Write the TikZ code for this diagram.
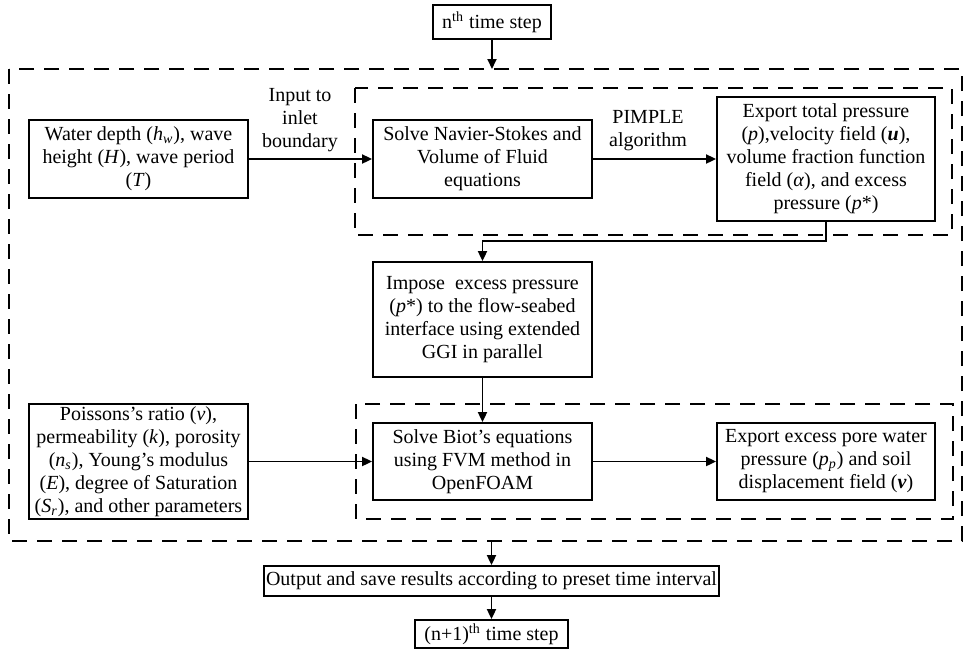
\documentclass[tikz,border=0pt]{standalone}
\usepackage{fontspec}
\setmainfont{Liberation Serif}
\usetikzlibrary{calc, positioning}
\usetikzlibrary{arrows.meta}

\tikzset{
  box/.style={draw, line width=0.9pt, align=center, inner sep=1pt,
    font=\fontsize{10}{11.5}\selectfont},
  lbl/.style={align=center, font=\fontsize{10}{11.5}\selectfont},
  frame/.style={line width=0.9pt, dash pattern=on 7.5pt off 5pt},
  arr/.style={line width=0.9pt, -{Triangle[length=5pt,width=4.5pt]}}
}

\begin{document}
\begin{tikzpicture}[x=0.5pt, y=-0.5pt]
\useasboundingbox (0,0) rectangle (965,650);

% dashed frames
\coordinate (FA) at (9,69);
\coordinate (FB) at (962,541);
\draw[frame] (FA) rectangle (FB);
\draw[frame] (355,88) rectangle (952,235);
\draw[frame] (356,404) rectangle (953,519);

% boxes
\node[box, minimum width=59pt, minimum height=17pt] (step) at (492,22) {n\textsuperscript{th} time step};

\node[box, minimum width=109.5pt, minimum height=39pt] (wave) at (138.5,159)
  {Water depth (\textit{h}\textsubscript{\textit{w}}), wave\\height (\textit{H}), wave period\\(\textit{T})};
\node[box, minimum width=109.5pt, minimum height=39pt] (ns) at (482.5,159)
  {Solve Navier-Stokes and\\Volume of Fluid\\equations};
\node[box, minimum width=109pt, minimum height=62pt] (exp1) at (826,159)
  {Export total pressure\\(\textit{p}),velocity field (\textbf{\textit{u}}),\\volume fraction function\\field (\textit{α}), and excess\\pressure (\textit{p}*)};

\node[box, minimum width=109.5pt, minimum height=57.5pt] (impose) at (482.5,319.5)
  {Impose\ \ excess pressure\\(\textit{p}*) to the flow-seabed\\interface using extended\\GGI in parallel};

\node[box, minimum width=109.5pt, minimum height=57.5pt] (soil) at (138.5,461.5)
  {Poissons’s ratio (\textit{v}),\\permeability (\textit{k}), porosity\\(\textit{n}\textsubscript{\textit{s}}), Young’s modulus\\(\textit{E}), degree of Saturation\\(\textit{S}\textsubscript{\textit{r}}), and other parameters};
\node[box, minimum width=109.5pt, minimum height=38.5pt] (biot) at (482.5,461.5)
  {Solve Biot’s equations\\using FVM method in\\OpenFOAM};
\node[box, minimum width=109pt, minimum height=38.5pt] (exp2) at (826,461.5)
  {Export excess pore water\\pressure (\textit{p}\textsubscript{\textit{p}}) and soil\\displacement field (\textbf{\textit{v}})};

\node[box, minimum width=226.5pt, minimum height=15pt] (save) at (491.5,581)
  {Output and save results according to preset time interval};
\node[box, minimum width=76.5pt, minimum height=14pt] (next) at (491.5,634)
  {(n+1)\textsuperscript{th} time step};

% labels
\node[lbl] (inlet) at (300,120) {Input to\\inlet\\boundary};
\node[lbl] (pimple) at (648,131) {PIMPLE\\algorithm};

% connectors
\coordinate (topin) at (492,69);
\coordinate (botout) at (491.5,541);
\coordinate (bend) at (826,241);

\draw[arr] (step) -- (topin);
\draw[arr] (wave) -- (ns);
\draw[arr] (ns) -- (exp1);
\draw[arr] (exp1.south) -- (bend) -| (impose.north);
\draw[arr] (impose) -- (biot);
\draw[arr] (soil) -- (biot);
\draw[arr] (biot) -- (exp2);
\draw[arr] (botout) -- (save);
\draw[arr] (save) -- (next);
\end{tikzpicture}
\end{document}
